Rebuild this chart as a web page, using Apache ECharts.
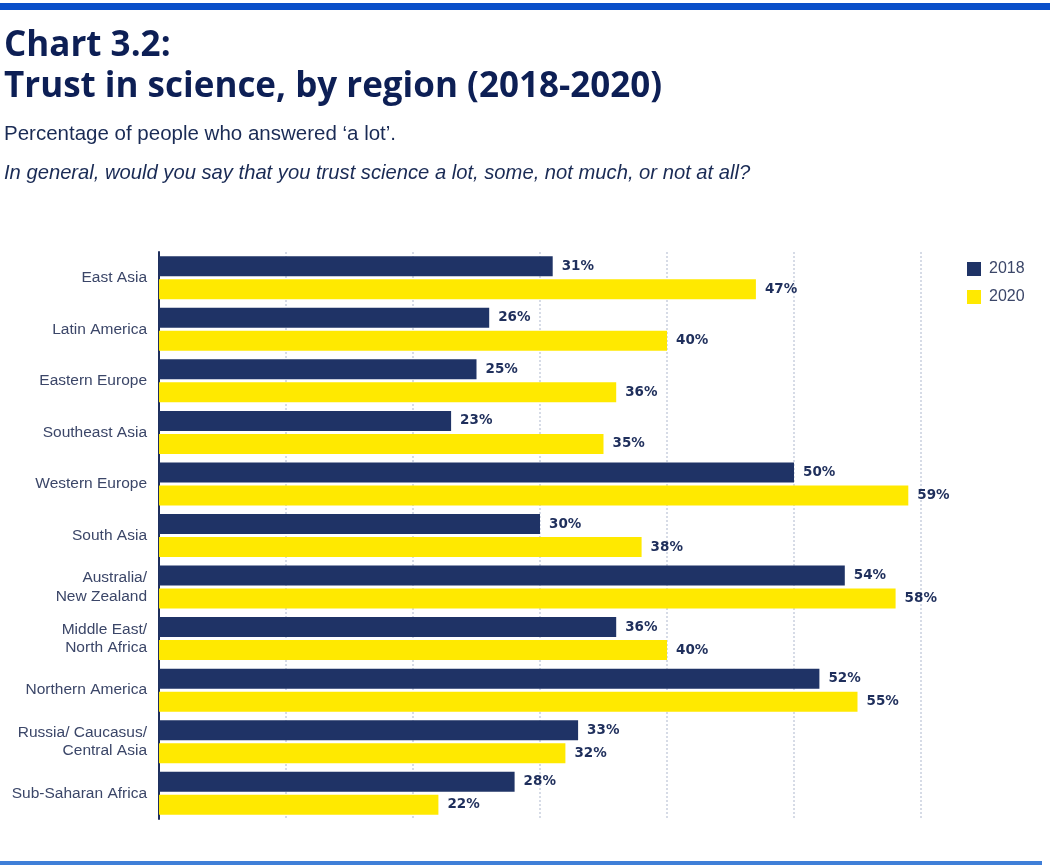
<!DOCTYPE html>
<html>
<head>
<meta charset="utf-8">
<style>
  html, body { margin: 0; padding: 0; background: #ffffff; }
  #chart { width: 1050px; height: 868px; }
</style>
<script src="https://cdn.jsdelivr.net/npm/echarts@6/dist/echarts.min.js"></script>
</head>
<body>
<div id="chart"></div>
<script>
const categories = [
  'East Asia',
  'Latin America',
  'Eastern Europe',
  'Southeast Asia',
  'Western Europe',
  'South Asia',
  'Australia/\nNew Zealand',
  'Middle East/\nNorth Africa',
  'Northern America',
  'Russia/ Caucasus/\nCentral Asia',
  'Sub-Saharan Africa'
];
const values2018 = [31, 26, 25, 23, 50, 30, 54, 36, 52, 33, 28];
const values2020 = [47, 40, 36, 35, 59, 38, 58, 40, 55, 32, 22];
const seriesNames = ['2018', '2020'];
const xTicks = [0, 10, 20, 30, 40, 50, 60];

const navy = '#1f3366';
const yellow = '#ffe900';
const labelColor = '#1f2f5c';

const chart = echarts.init(document.getElementById('chart'), null, { renderer: 'canvas' });

const labelStyle = {
  show: true,
  position: 'right',
  distance: 9,
  formatter: '{c}%',
  color: labelColor,
  fontFamily: 'DejaVu Sans',
  fontWeight: 700,
  fontSize: 13.5
};

chart.setOption({
  backgroundColor: '#ffffff',
  animation: false,
  title: [
    {
      text: 'Chart 3.2:',
      left: 4, top: 29, padding: 0,
      textStyle: { fontFamily: 'Open Sans', fontWeight: 700, fontSize: 35, color: '#0d1f55' }
    },
    {
      text: 'Trust in science, by region (2018-2020)',
      left: 4, top: 70, padding: 0,
      textStyle: { fontFamily: 'Open Sans', fontWeight: 700, fontSize: 35, color: '#0d1f55' }
    },
    {
      text: 'Percentage of people who answered \u2018a lot\u2019.',
      left: 4, top: 124, padding: 0,
      textStyle: { fontFamily: 'Liberation Sans', fontWeight: 400, fontSize: 20.5, color: '#1a2b55' }
    },
    {
      text: 'In general, would you say that you trust science a lot, some, not much, or not at all?',
      left: 4, top: 163, padding: 0,
      textStyle: { fontFamily: 'Liberation Sans', fontStyle: 'italic', fontWeight: 400, fontSize: 20.2, color: '#1a2b55' }
    }
  ],
  graphic: [
    { type: 'rect', left: 0, top: 3, shape: { width: 1050, height: 7 }, style: { fill: '#0a4fc9' } },
    { type: 'rect', left: 0, top: 861, shape: { width: 1042, height: 4 }, style: { fill: '#3f7fd8' } }
  ],
  legend: {
    orient: 'vertical',
    left: 967, top: 261, padding: 0,
    itemWidth: 14, itemHeight: 14, itemGap: 12,
    icon: 'rect',
    data: seriesNames,
    textStyle: { fontFamily: 'Liberation Sans', fontSize: 16, color: '#3b4668', padding: [0, 0, 0, 3] }
  },
  grid: { left: 159, right: 129, top: 252, height: 567, containLabel: false },
  xAxis: {
    type: 'value',
    min: xTicks[0],
    max: xTicks[xTicks.length - 1],
    interval: 10,
    axisLine: { show: false },
    axisTick: { show: false },
    axisLabel: { show: false },
    splitLine: { show: true, lineStyle: { color: '#c9d0de', type: [2, 2], width: 1.5 } }
  },
  yAxis: {
    type: 'category',
    data: categories,
    inverse: true,
    axisLine: { show: true, lineStyle: { color: '#1f2f5c', width: 2 } },
    axisTick: { show: false },
    axisLabel: {
      margin: 12,
      fontFamily: 'Liberation Sans',
      fontSize: 15.5,
      lineHeight: 18.5,
      color: '#3b4668',
      align: 'right'
    }
  },
  series: [
    {
      name: seriesNames[0],
      type: 'bar',
      data: values2018,
      barWidth: 20,
      barGap: '15%',
      itemStyle: { color: navy },
      label: labelStyle
    },
    {
      name: seriesNames[1],
      type: 'bar',
      data: values2020,
      barWidth: 20,
      barGap: '15%',
      itemStyle: { color: yellow },
      label: labelStyle
    }
  ]
});
</script>
</body>
</html>
